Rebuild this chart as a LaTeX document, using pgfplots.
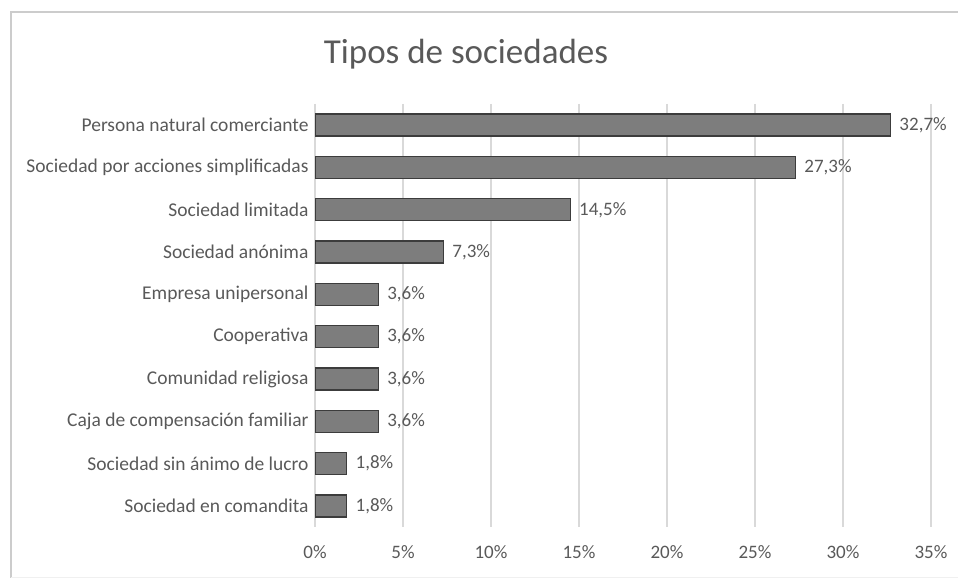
\documentclass[border=0pt]{standalone}
\usepackage{fontspec}
\setmainfont{Carlito}
\usepackage{pgfplots}
\pgfplotsset{compat=1.18}
\definecolor{txt}{RGB}{89,89,89}
\definecolor{gridc}{RGB}{217,217,217}
\definecolor{barfill}{RGB}{125,125,125}
\definecolor{baredge}{RGB}{60,60,60}
\begin{document}
\begin{tikzpicture}
\useasboundingbox (0,0) rectangle (958bp,581bp);
\draw[gray!40, line width=1.2bp] (11bp,3bp) -- (11bp,569bp) -- (958bp,569bp);
\draw[gray!12, line width=1bp] (11bp,3bp) -- (958bp,3bp);
\node[text=txt, font=\fontsize{35bp}{40bp}\selectfont] at (466bp,527bp) {Tipos de sociedades};
\begin{axis}[
  at={(315bp,54bp)}, anchor=south west,
  scale only axis, width=616bp, height=423bp,
  xbar, bar width=22bp,
  xmin=0, xmax=35, ymin=-0.5, ymax=9.5,
  y dir=reverse,
  xtick={0,5,...,35},
  xticklabel={\pgfmathprintnumber{\tick}\%},
  /pgf/number format/assume math mode=true,
  ytick={0,...,9},
  yticklabels={Persona natural comerciante,Sociedad por acciones simplificadas,Sociedad limitada,Sociedad anónima,Empresa unipersonal,Cooperativa,Comunidad religiosa,Caja de compensación familiar,Sociedad sin ánimo de lucro,Sociedad en comandita},
  xmajorgrids=true, ymajorgrids=false,
  grid style={draw=gridc, line width=1.2bp},
  axis line style={draw=none},
  major tick length=0pt,
  tick label style={text=txt},
  xticklabel style={font=\fontsize{19bp}{22bp}\selectfont, yshift=-15bp},
  yticklabel style={font=\fontsize{19.5bp}{22bp}\selectfont, xshift=-3bp},
  nodes near coords,
  point meta=explicit symbolic,
  every node near coord/.append style={text=txt, anchor=west, font=\fontsize{19bp}{22bp}\selectfont, xshift=5bp},
]
\addplot[fill=barfill, draw=baredge, line width=1.3bp] coordinates {
(32.7,0) [32,7\%]
(27.3,1) [27,3\%]
(14.5,2) [14,5\%]
(7.3,3) [7,3\%]
(3.6,4) [3,6\%]
(3.6,5) [3,6\%]
(3.6,6) [3,6\%]
(3.6,7) [3,6\%]
(1.8,8) [1,8\%]
(1.8,9) [1,8\%]
};
\end{axis}
\end{tikzpicture}
\end{document}
